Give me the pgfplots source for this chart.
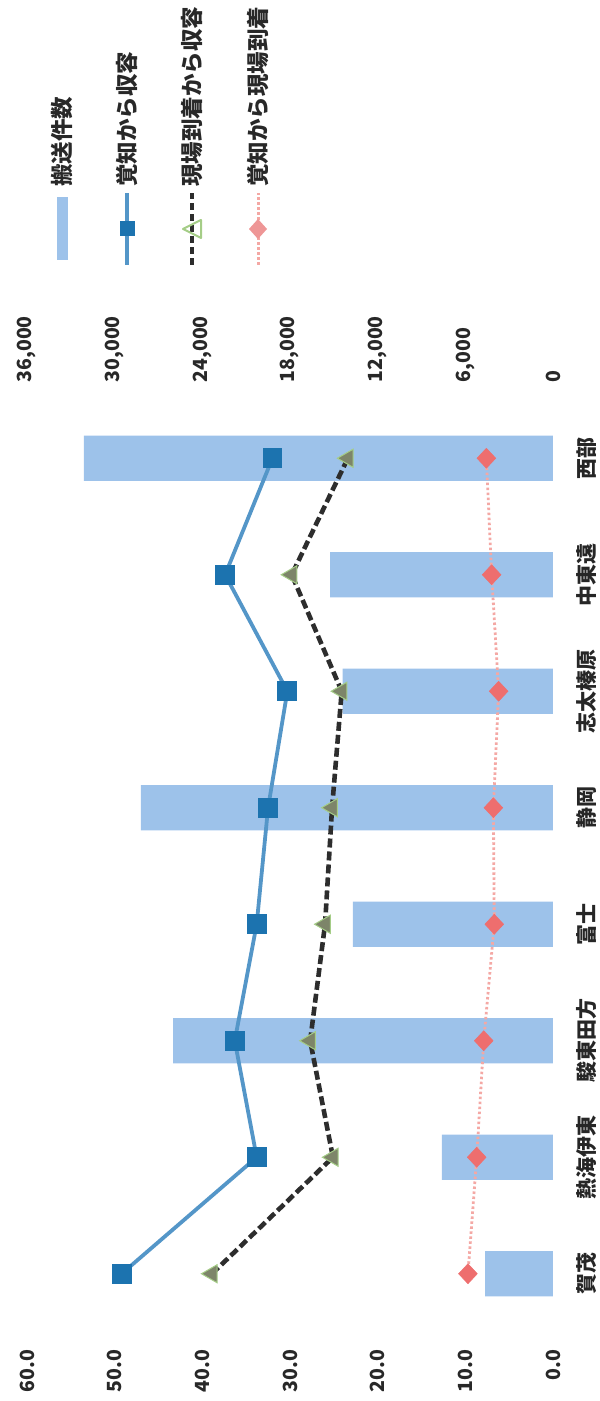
\documentclass[border=0pt]{standalone}
\usepackage{fontspec}
\setmainfont{Noto Sans CJK JP}
\usepackage{pgfplots}
\pgfplotsset{compat=1.18}
\definecolor{barcol}{RGB}{157,194,234}
\definecolor{l1}{RGB}{84,150,200}
\definecolor{m1}{RGB}{28,115,175}
\definecolor{l2}{RGB}{45,45,45}
\definecolor{m2}{RGB}{125,133,105}
\definecolor{m2e}{RGB}{165,205,135}
\definecolor{l3}{RGB}{244,168,164}
\definecolor{m3}{RGB}{238,110,110}
\definecolor{m3l}{RGB}{238,150,150}
\definecolor{txt}{RGB}{40,40,40}
\begin{document}
\begin{tikzpicture}
\pgfplotsset{
  every axis/.append style={
    scale only axis, width=526pt, height=932pt,
    ymin=-0.5, ymax=7.5,
    x dir=reverse,
    axis line style={draw=none},
    tick style={draw=none},
    major tick length=0pt,
    scaled ticks=false,
    tick label style={font=\bfseries\fontsize{19.5}{21}\selectfont, text=txt},
    /pgf/number format/assume math mode=true,
  },
}
% ---- bars: counts (top axis)
\begin{axis}[
  name=ax1,
  xmin=0, xmax=36000,
  axis x line*=top,
  axis y line*=right,
  xtick={0,6000,12000,18000,24000,30000,36000},
  xticklabel style={rotate=90, anchor=west, /pgf/number format/.cd, fixed, 1000 sep={,}},
  xticklabel shift=14pt,
  ytick=\empty,
]
\addplot[xbar, bar width=0.39, fill=barcol, draw=none, forget plot] coordinates {
  (4650,0) (7600,1) (26000,2) (13700,3) (28200,4) (14400,5) (15250,6) (32100,7)
};
\end{axis}
% ---- lines: minutes (bottom axis)
\begin{axis}[
  name=ax,
  xmin=0, xmax=60,
  axis x line*=bottom,
  axis y line*=right,
  xtick={0,10,20,30,40,50,60},
  xticklabel style={rotate=90, anchor=east, /pgf/number format/.cd, fixed, fixed zerofill, precision=1},
  xticklabel shift=14pt,
  ytick={0,1,2,3,4,5,6,7},
  yticklabels={賀茂,熱海伊東,駿東田方,富士,静岡,志太榛原,中東遠,西部},
  yticklabel style={rotate=90, anchor=north, font=\bfseries\fontsize{21}{23}\selectfont, text=black!85},
  yticklabel shift=20pt,
]
\addplot[l1, line width=3.8pt, mark=square*, mark size=8pt,
  mark options={fill=m1, draw=m1, solid}] coordinates {
  (49.2,0) (33.8,1) (36.3,2) (33.8,3) (32.5,4) (30.3,5) (37.4,6) (32.0,7)
};
\addplot[l2, line width=4.6pt, dash pattern=on 9pt off 4pt, mark=triangle*, mark size=10.5pt,
  mark options={fill=m2, draw=m2e, line width=1pt, solid, rotate=90}] coordinates {
  (38.9,0) (25.1,1) (27.7,2) (26.0,3) (25.2,4) (24.1,5) (29.8,6) (23.4,7)
};
\addplot[l3, line width=2.8pt, dash pattern=on 2.5pt off 2.5pt, mark=diamond*, mark size=10pt,
  mark options={fill=m3, draw=m3, solid, line width=0.5pt, xscale=1.25}] coordinates {
  (9.7,0) (8.7,1) (7.9,2) (6.7,3) (6.8,4) (6.2,5) (7.0,6) (7.6,7)
};
\end{axis}
% ---- legend (drawn rotated, as in the scanned chart)
\begin{scope}[shift={(ax.north west)}]
  \fill[barcol] (29.5pt,140pt) rectangle (40.5pt,203pt);
  \draw[l1, line width=3.8pt] (100pt,135pt) -- (100pt,207pt);
  \fill[m1] (92.5pt,163.5pt) rectangle (107.5pt,178.5pt);
  \draw[l2, line width=4.2pt, dash pattern=on 7pt off 4pt] (165pt,135pt) -- (165pt,207pt);
  \draw[m2e, line width=2pt, line join=round] (156pt,171pt) -- (174pt,180pt) -- (174pt,162pt) -- cycle;
  \draw[l3, line width=3pt, dash pattern=on 2.5pt off 2.5pt] (231pt,135pt) -- (231pt,207pt);
  \fill[m3l] (231pt,161pt) -- (240pt,171pt) -- (231pt,181pt) -- (222pt,171pt) -- cycle;
  \begin{scope}[every node/.style={rotate=90, anchor=west, inner sep=0pt, text=txt, font=\bfseries\fontsize{22.5}{24}\selectfont}]
    \node at (35pt,213pt) {搬送件数};
    \node at (100pt,213pt) {覚知から収容};
    \node at (165pt,213pt) {現場到着から収容};
    \node at (231pt,213pt) {覚知から現場到着};
  \end{scope}
\end{scope}
\pgfresetboundingbox
\path[use as bounding box] ([shift={(-27pt,-69pt)}]ax.south west) rectangle ([shift={(46pt,400pt)}]ax.north east);
\end{tikzpicture}
\end{document}
